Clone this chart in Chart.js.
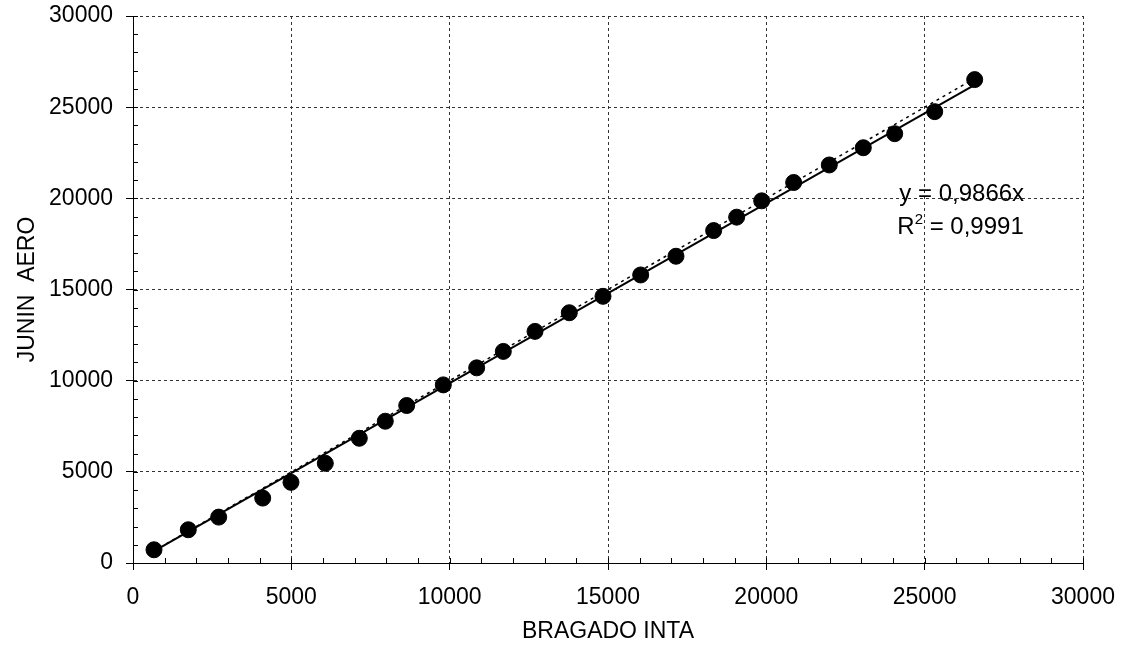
<!DOCTYPE html>
<html>
<head>
<meta charset="utf-8">
<title>JUNIN AERO vs BRAGADO INTA</title>
<script src="https://cdn.jsdelivr.net/npm/chart.js@4.4.0/dist/chart.umd.min.js"></script>
<style>
  html, body { margin: 0; padding: 0; background: #fff; }
  #wrap { width: 1125px; height: 651px; }
</style>
</head>
<body>
<div id="wrap"><canvas id="chart"></canvas></div>
<script>
// values
const bragado = [663, 1746, 2706, 4096, 4989, 6073, 7146, 7967, 8643, 9799, 10853, 11694, 12695,
  13778, 14842, 16032, 17147, 18337, 19063, 19853, 20863, 21988, 23062, 24054, 25317, 26580];
const junin = [725, 1824, 2516, 3560, 4423, 5467, 6841, 7775, 8637, 9769, 10703, 11604, 12703,
  13725, 14626, 15797, 16824, 18231, 18967, 19863, 20868, 21830, 22775, 23544, 24753, 26511];
const slope = 0.9866;
const equation = 'y = 0,9866x';
const rSquared = ' = 0,9991';
const axisMin = 0;
const axisMax = 30000;
const majorStep = 5000;
const minorStep = 1000;
const xTitle = 'BRAGADO INTA';
const yTitle = 'JUNIN  AERO';

const FONT = 'Liberation Sans, Arial, sans-serif';

const points = bragado.map((v, i) => ({ x: v, y: junin[i] }));
const xLo = Math.min(...bragado);
const xHi = Math.max(...bragado);
const trend = [{ x: xLo, y: slope * xLo }, { x: xHi, y: slope * xHi }];
const identity = [{ x: xLo, y: xLo }, { x: xHi, y: xHi }];

// small ticks every 1000 pointing into the plot
const minorTicks = {
  id: 'minorTicks',
  beforeDatasetsDraw(chart) {
    const { ctx, chartArea, scales: { x, y } } = chart;
    ctx.save();
    ctx.strokeStyle = '#000';
    ctx.lineWidth = 1;
    ctx.beginPath();
    for (let v = axisMin; v <= axisMax; v += minorStep) {
      const px = Math.round(x.getPixelForValue(v)) + 0.5;
      ctx.moveTo(px, chartArea.bottom);
      ctx.lineTo(px, chartArea.bottom - 5);
      const py = Math.round(y.getPixelForValue(v)) + 0.5;
      ctx.moveTo(chartArea.left, py);
      ctx.lineTo(chartArea.left + 5, py);
    }
    ctx.stroke();
    ctx.restore();
  }
};

// regression equation text
const eqLabel = {
  id: 'eqLabel',
  afterDraw(chart) {
    const { ctx, scales: { x, y } } = chart;
    const left = x.getPixelForValue(24200);
    const base = y.getPixelForValue(19850);
    ctx.save();
    ctx.fillStyle = '#000';
    ctx.textAlign = 'left';
    ctx.textBaseline = 'alphabetic';
    ctx.font = '24px ' + FONT;
    ctx.fillText(equation, left, base);
    const base2 = base + 33;
    ctx.fillText('R', left - 2, base2);
    const rw = ctx.measureText('R').width;
    ctx.font = '15px ' + FONT;
    ctx.fillText('2', left - 2 + rw, base2 - 10);
    const sw = ctx.measureText('2').width;
    ctx.font = '24px ' + FONT;
    ctx.fillText(rSquared, left - 2 + rw + sw, base2);
    ctx.restore();
  }
};

const tickFont = { family: FONT, size: 23 };

new Chart(document.getElementById('chart').getContext('2d'), {
  type: 'scatter',
  data: {
    datasets: [
      {
        label: 'datos',
        data: points,
        backgroundColor: '#000',
        borderColor: '#000',
        pointRadius: 8,
        pointHoverRadius: 8,
        order: 0
      },
      {
        label: 'tendencia',
        data: trend,
        showLine: true,
        borderColor: '#000',
        borderWidth: 2,
        pointRadius: 0,
        order: 1
      },
      {
        label: '1:1',
        data: identity,
        showLine: true,
        borderColor: '#000',
        borderWidth: 1.5,
        borderDash: [3, 4],
        pointRadius: 0,
        order: 2
      }
    ]
  },
  options: {
    responsive: true,
    maintainAspectRatio: false,
    animation: false,
    layout: { padding: { top: 16, right: 42, bottom: 0, left: 0 } },
    plugins: {
      legend: { display: false },
      tooltip: { enabled: false }
    },
    scales: {
      x: {
        type: 'linear',
        min: axisMin,
        max: axisMax,
        ticks: {
          stepSize: majorStep,
          color: '#000',
          font: tickFont,
          padding: 14,
          maxRotation: 0,
          callback: (v) => String(v)
        },
        grid: { color: '#333', lineWidth: 1, tickLength: 7, tickColor: '#000', tickBorderDash: [] },
        border: { display: true, color: '#000', width: 1, dash: [3, 3] },
        title: { display: true, text: xTitle, color: '#000', font: tickFont, padding: { top: 4, bottom: 6 } },
        afterFit(scale) {
          scale.height = 88;
          scale.paddingLeft = 0;
          scale.paddingRight = 0;
        }
      },
      y: {
        type: 'linear',
        min: axisMin,
        max: axisMax,
        ticks: {
          stepSize: majorStep,
          color: '#000',
          font: tickFont,
          padding: 13,
          callback: (v) => String(v)
        },
        grid: { color: '#333', lineWidth: 1, tickLength: 7, tickColor: '#000', tickBorderDash: [] },
        border: { display: true, color: '#000', width: 1, dash: [3, 3] },
        title: { display: true, text: yTitle, color: '#000', font: tickFont, padding: { top: 14, bottom: 4 } },
        afterFit(scale) {
          scale.width = 133;
          scale.paddingTop = 0;
          scale.paddingBottom = 0;
        }
      }
    }
  },
  plugins: [minorTicks, eqLabel]
});
</script>
</body>
</html>
